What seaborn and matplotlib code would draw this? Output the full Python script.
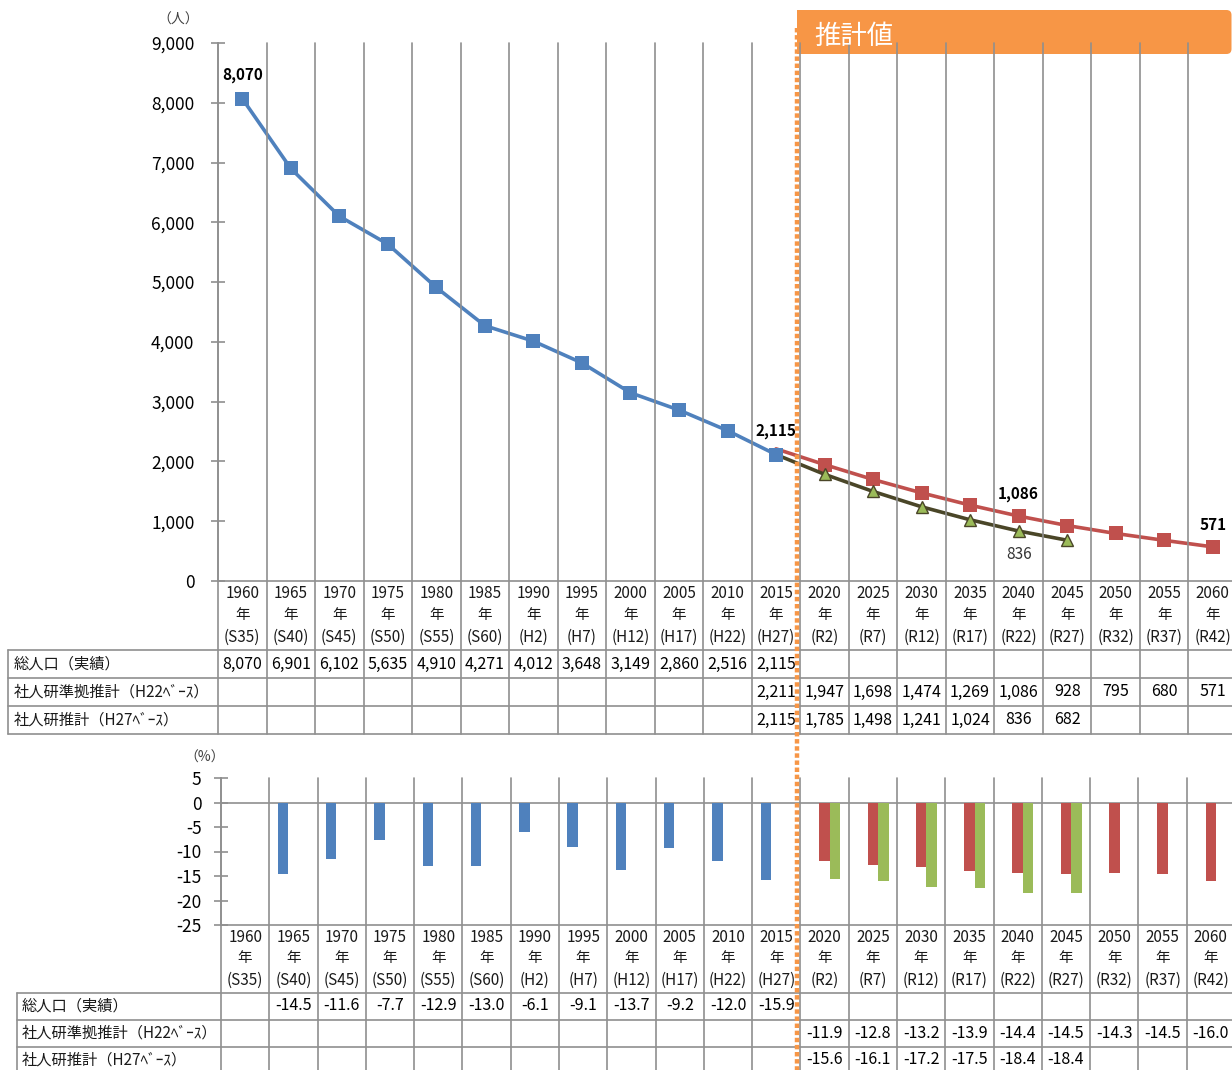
import numpy as np
import pandas as pd
import matplotlib
matplotlib.use("Agg")
import matplotlib.pyplot as plt
import seaborn as sns
from matplotlib import transforms
from matplotlib.lines import Line2D
from matplotlib.patches import FancyBboxPatch, Rectangle
from matplotlib.ticker import FuncFormatter

nan = np.nan

# ---------------- data ----------------
years = ["1960", "1965", "1970", "1975", "1980", "1985", "1990", "1995", "2000", "2005",
         "2010", "2015", "2020", "2025", "2030", "2035", "2040", "2045", "2050", "2055", "2060"]
eras = ["(S35)", "(S40)", "(S45)", "(S50)", "(S55)", "(S60)", "(H2)", "(H7)", "(H12)", "(H17)",
        "(H22)", "(H27)", "(R2)", "(R7)", "(R12)", "(R17)", "(R22)", "(R27)", "(R32)", "(R37)", "(R42)"]
row_labels = ["総人口（実績）", "社人研準拠推計（H22ﾍﾞｰｽ）", "社人研推計（H27ﾍﾞｰｽ）"]

pop_actual = [8070, 6901, 6102, 5635, 4910, 4271, 4012, 3648, 3149, 2860, 2516, 2115,
              nan, nan, nan, nan, nan, nan, nan, nan, nan]
pop_h22 = [nan, nan, nan, nan, nan, nan, nan, nan, nan, nan, nan, 2211,
           1947, 1698, 1474, 1269, 1086, 928, 795, 680, 571]
pop_h27 = [nan, nan, nan, nan, nan, nan, nan, nan, nan, nan, nan, 2115,
           1785, 1498, 1241, 1024, 836, 682, nan, nan, nan]

rate_actual = [nan, -14.5, -11.6, -7.7, -12.9, -13.0, -6.1, -9.1, -13.7, -9.2, -12.0, -15.9,
               nan, nan, nan, nan, nan, nan, nan, nan, nan]
rate_h22 = [nan, nan, nan, nan, nan, nan, nan, nan, nan, nan, nan, nan,
            -11.9, -12.8, -13.2, -13.9, -14.4, -14.5, -14.3, -14.5, -16.0]
rate_h27 = [nan, nan, nan, nan, nan, nan, nan, nan, nan, nan, nan, nan,
            -15.6, -16.1, -17.2, -17.5, -18.4, -18.4, nan, nan, nan]

# indices of labelled points
labels_actual = [0, 11]
labels_h22 = [16, 20]
labels_h27 = [16]

# ---------------- style ----------------
sns.set_theme(style="white")
plt.rcParams["font.family"] = ["Noto Sans CJK JP", "DejaVu Sans"]
plt.rcParams["axes.unicode_minus"] = False

BLUE = "#4F81BD"
RED = "#C0504D"
GREEN = "#9BBB59"
DARK = "#4A4628"
ORANGE = "#F79646"
GRID = "#8F8F8F"
TXT = "#1A1A1A"
LW = 1.2

W, H = 1232, 1070
fig = plt.figure(figsize=(W / 100, H / 100), dpi=100)
fig.patch.set_facecolor("white")


def fx(px):
    return px / W


def fy(py):
    return 1 - py / H


n = len(years)
idx = np.arange(n)

# ---------------- top chart ----------------
ax1 = fig.add_axes([fx(218), fy(581), fx(1237) - fx(218), fy(43) - fy(581)])
ax1.set_facecolor("none")

s_h22 = pd.Series(pop_h22, index=idx).dropna()
s_h27 = pd.Series(pop_h27, index=idx).dropna()
s_act = pd.Series(pop_actual, index=idx).dropna()

sns.lineplot(x=s_h22.index, y=s_h22.values, ax=ax1, color=RED, lw=2.6,
             marker="s", markersize=9.5, markerfacecolor=RED, markeredgecolor=RED,
             markeredgewidth=0, markevery=slice(1, None), zorder=3)
sns.lineplot(x=s_h27.index, y=s_h27.values, ax=ax1, color=DARK, lw=2.6,
             marker="^", markersize=9, markerfacecolor=GREEN, markeredgecolor=DARK,
             markeredgewidth=1.0, markevery=slice(1, None), zorder=3)
sns.lineplot(x=s_act.index, y=s_act.values, ax=ax1, color=BLUE, lw=2.6,
             marker="s", markersize=9.5, markerfacecolor=BLUE, markeredgecolor=BLUE,
             markeredgewidth=0, zorder=4)

for i in labels_actual:
    ax1.annotate(f"{pop_actual[i]:,.0f}", xy=(i, pop_actual[i]), xytext=(0, 17),
                 textcoords="offset points", ha="center", va="center",
                 fontsize=11, fontweight="bold", color="black", zorder=6)
for i in labels_h22:
    ax1.annotate(f"{pop_h22[i]:,.0f}", xy=(i, pop_h22[i]), xytext=(0, 16),
                 textcoords="offset points", ha="center", va="center",
                 fontsize=11, fontweight="bold", color="black", zorder=6)
for i in labels_h27:
    ax1.annotate(f"{pop_h27[i]:,.0f}", xy=(i, pop_h27[i]), xytext=(0, -17),
                 textcoords="offset points", ha="center", va="center",
                 fontsize=11, color="#333333", zorder=6)

ax1.set_xlim(-0.5, n - 0.5)
ax1.set_ylim(0, 9000)
ax1.set_yticks(np.arange(0, 9001, 1000))
ax1.yaxis.set_major_formatter(FuncFormatter(lambda v, p: f"{v:,.0f}"))
ax1.set_xticks([])
ax1.set_xlabel("")
ax1.set_ylabel("")
ax1.tick_params(axis="y", direction="inout", length=10, width=LW, color=GRID,
                labelsize=12.5, labelcolor="black", pad=12, left=True)
for side in ["top", "right"]:
    ax1.spines[side].set_visible(False)
for side in ["left", "bottom"]:
    ax1.spines[side].set_color(GRID)
    ax1.spines[side].set_linewidth(LW)

tr1 = transforms.blended_transform_factory(ax1.transData, fig.transFigure)

# vertical boundaries (chart + category labels + table)
for b in np.arange(-0.5, n, 1.0):
    fig.add_artist(Line2D([b, b], [fy(43), fy(734)], transform=tr1, color=GRID, lw=LW, zorder=2))
fig.add_artist(Line2D([fx(8), fx(8)], [fy(650), fy(734)], transform=fig.transFigure,
                      color=GRID, lw=LW))
for py in [650, 678, 706, 734]:
    fig.add_artist(Line2D([fx(8), fx(1240)], [fy(py), fy(py)], transform=fig.transFigure,
                          color=GRID, lw=LW))

for i in range(n):
    fig.text(i, fy(594), years[i], transform=tr1, ha="center", va="center", fontsize=11, color=TXT)
    fig.text(i, fy(615), "年", transform=tr1, ha="center", va="center", fontsize=10.5, color=TXT)
    fig.text(i, fy(637), eras[i], transform=tr1, ha="center", va="center", fontsize=11, color=TXT)

for r, (series, py) in enumerate(zip([pop_actual, pop_h22, pop_h27], [664, 692, 720])):
    fig.text(fx(14), fy(py), row_labels[r], ha="left", va="center", fontsize=11, color=TXT)
    for i, v in enumerate(series):
        if not np.isnan(v):
            fig.text(i, fy(py), f"{v:,.0f}", transform=tr1, ha="center", va="center",
                     fontsize=11.5, color="black")

fig.text(fx(178), fy(20), "（人）", ha="center", va="center", fontsize=10, color="#404040")

# ---------------- bottom chart ----------------
ax2 = fig.add_axes([fx(221), fy(925), fx(1235) - fx(221), fy(778) - fy(925)])
ax2.set_facecolor("none")

series_names = ["実績", "H22", "H27"]
df = pd.DataFrame({
    "year": years * 3,
    "series": [series_names[0]] * n + [series_names[1]] * n + [series_names[2]] * n,
    "rate": rate_actual + rate_h22 + rate_h27,
}).dropna()

sns.barplot(data=df, x="year", y="rate", hue="series", order=years, hue_order=series_names,
            palette=[BLUE, RED, GREEN], width=0.65, dodge=True, errorbar=None,
            linewidth=0, legend=False, saturation=1, ax=ax2, zorder=3)

ax2.set_xlim(-0.5, n - 0.5)
ax2.set_ylim(-25, 5)
ax2.set_yticks(np.arange(-25, 6, 5))
ax2.yaxis.set_major_formatter(FuncFormatter(lambda v, p: f"{v:.0f}"))
ax2.set_xticks([])
ax2.set_xlabel("")
ax2.set_ylabel("")
ax2.axhline(0, color=GRID, lw=LW, zorder=2)
ax2.tick_params(axis="y", direction="inout", length=10, width=LW, color=GRID,
                labelsize=12.5, labelcolor="black", pad=9, left=True)
for side in ["top", "right"]:
    ax2.spines[side].set_visible(False)
for side in ["left", "bottom"]:
    ax2.spines[side].set_color(GRID)
    ax2.spines[side].set_linewidth(LW)

tr2 = transforms.blended_transform_factory(ax2.transData, fig.transFigure)
for b in np.arange(-0.5, n, 1.0):
    fig.add_artist(Line2D([b, b], [fy(778), fy(1075)], transform=tr2, color=GRID, lw=LW, zorder=2))
fig.add_artist(Line2D([fx(17), fx(17)], [fy(993), fy(1075)], transform=fig.transFigure,
                      color=GRID, lw=LW))
for py in [993, 1020, 1047]:
    fig.add_artist(Line2D([fx(17), fx(1240)], [fy(py), fy(py)], transform=fig.transFigure,
                          color=GRID, lw=LW))

for i in range(n):
    fig.text(i, fy(938), years[i], transform=tr2, ha="center", va="center", fontsize=11, color=TXT)
    fig.text(i, fy(958), "年", transform=tr2, ha="center", va="center", fontsize=10.5, color=TXT)
    fig.text(i, fy(980), eras[i], transform=tr2, ha="center", va="center", fontsize=11, color=TXT)

for r, (series, py) in enumerate(zip([rate_actual, rate_h22, rate_h27], [1006, 1033, 1060])):
    fig.text(fx(22), fy(py), row_labels[r], ha="left", va="center", fontsize=11, color=TXT)
    for i, v in enumerate(series):
        if not np.isnan(v):
            fig.text(i, fy(py), f"{v:.1f}", transform=tr2, ha="center", va="center",
                     fontsize=11.5, color="black")

fig.text(fx(205), fy(758), "（%）", ha="center", va="center", fontsize=10, color="#404040")

# ---------------- projection marker ----------------
box = FancyBboxPatch((7.97, (H - 54) / 100), (W - 797) / 100 - 0.005, 0.44,
                     boxstyle="round,pad=0,rounding_size=0.05",
                     transform=fig.dpi_scale_trans, facecolor=ORANGE, edgecolor="none", zorder=1)
fig.add_artist(box)
fig.add_artist(Rectangle((7.97, (H - 54) / 100), 1.0, 0.44, transform=fig.dpi_scale_trans,
                         facecolor=ORANGE, edgecolor="none", zorder=1))
fig.text(fx(814), fy(36), "推計値", ha="left", va="center", fontsize=19, color="white", zorder=5)

fig.add_artist(Line2D([fx(797), fx(797)], [fy(28), fy(1072)], transform=fig.transFigure,
                      color=ORANGE, lw=3.2, linestyle=(0, (1.0, 0.6)), zorder=10))

fig.savefig("out.png", dpi=100, facecolor="white")
